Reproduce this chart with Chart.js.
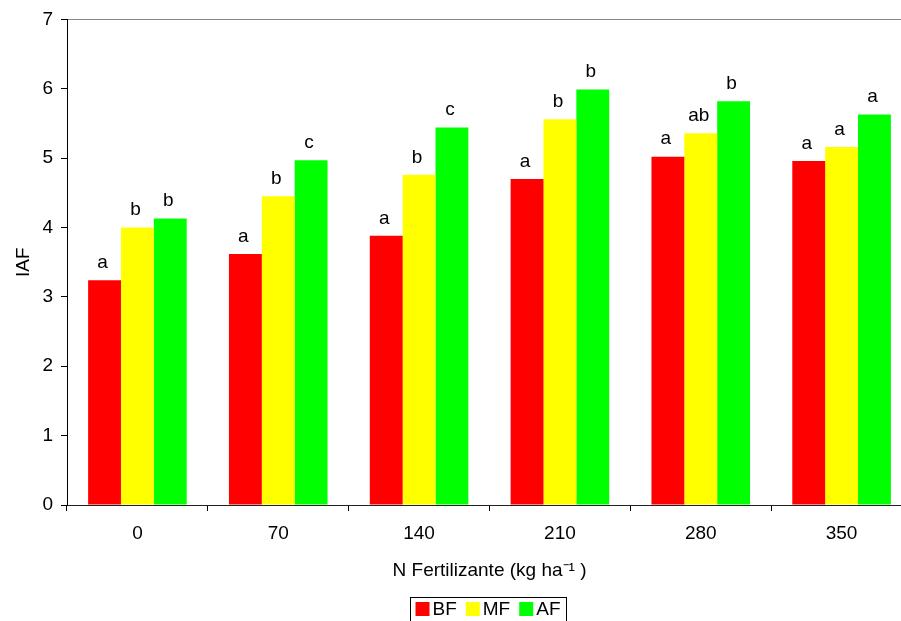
<!DOCTYPE html>
<html>
<head>
<meta charset="utf-8">
<script src="https://cdn.jsdelivr.net/npm/chart.js@4/dist/chart.umd.min.js"></script>
<style>
  html, body { margin: 0; padding: 0; background: #fff; overflow: hidden; }
  #wrap { width: 901px; height: 621px; overflow: hidden; position: relative; }
  #box { width: 978px; height: 640px; position: absolute; left: 0; top: 0; }
</style>
</head>
<body>
<div id="wrap"><div id="box"><canvas id="myChart" width="978" height="640"></canvas></div></div>
<script>
// doses de N (categorias)
var categorias = ['0', '70', '140', '210', '280', '350']

// IAF por nivel de fertilidade
var valoresBF = [3.24, 3.62, 3.88, 4.70, 5.02, 4.96]
var valoresMF = [4.00, 4.45, 4.76, 5.56, 5.36, 5.16]
var valoresAF = [4.13, 4.97, 5.44, 5.99, 5.82, 5.63]

// letras de comparacao de medias
var letrasBF = ['a', 'a', 'a', 'a', 'a', 'a']
var letrasMF = ['b', 'b', 'b', 'b', 'ab', 'a']
var letrasAF = ['b', 'c', 'c', 'b', 'b', 'a']

var ticksY = [0, 1, 2, 3, 4, 5, 6, 7]

const fonte = 'Liberation Sans, Arial, sans-serif'
const tam = 19

const data = {
    labels: categorias,
    datasets: [
        { label: 'BF', data: valoresBF, backgroundColor: '#ff0000', letras: letrasBF },
        { label: 'MF', data: valoresMF, backgroundColor: '#ffff00', letras: letrasMF },
        { label: 'AF', data: valoresAF, backgroundColor: '#00ff00', letras: letrasAF }
    ]
}

// letras acima das barras
const letrasPlugin = {
    id: 'letras',
    afterDatasetsDraw(chart) {
        const ctx = chart.ctx
        ctx.save()
        ctx.font = tam + 'px ' + fonte
        ctx.fillStyle = '#000'
        ctx.textAlign = 'center'
        ctx.textBaseline = 'bottom'
        chart.data.datasets.forEach((ds, i) => {
            chart.getDatasetMeta(i).data.forEach((bar, j) => {
                ctx.fillText(ds.letras[j], bar.x - 2, bar.y - 8)
            })
        })
        ctx.restore()
    }
}

// legenda com moldura, embaixo
const legendaPlugin = {
    id: 'legenda',
    afterDraw(chart) {
        const ctx = chart.ctx
        const area = chart.chartArea
        ctx.save()
        ctx.font = tam + 'px ' + fonte
        const q = 14, gapTxt = 3, gapItem = 9, padL = 5, padR = 6
        const dss = chart.data.datasets
        let largura = padL + padR
        dss.forEach((ds, i) => {
            largura += q + gapTxt + ctx.measureText(ds.label).width
            if (i < dss.length - 1) largura += gapItem
        })
        const x0 = Math.round((area.left + area.right) / 2 - largura / 2) - 1.5
        const y0 = 597.5
        ctx.strokeStyle = '#000'
        ctx.lineWidth = 1
        ctx.strokeRect(x0, y0, largura, 30)
        let x = x0 + padL
        const yc = 609
        ctx.textBaseline = 'middle'
        ctx.textAlign = 'left'
        dss.forEach(ds => {
            ctx.fillStyle = ds.backgroundColor
            ctx.fillRect(x, yc - q / 2, q, q)
            x += q + gapTxt
            ctx.fillStyle = '#000'
            ctx.fillText(ds.label, x, yc + 1)
            x += ctx.measureText(ds.label).width + gapItem
        })
        ctx.restore()
    }
}

const opcoes = {
    responsive: false,
    animation: false,
    devicePixelRatio: 1,
    layout: {
        padding: { left: 0, right: 66, top: 18, bottom: 47 }
    },
    plugins: {
        legend: { display: false },
        tooltip: { enabled: false }
    },
    datasets: {
        bar: { categoryPercentage: 0.7, barPercentage: 1.0 }
    },
    scales: {
        x: {
            afterFit(s) { s.height = 88 },
            grid: {
                offset: true,
                drawOnChartArea: false,
                tickLength: 6,
                tickColor: '#000'
            },
            border: { display: true, color: '#222', width: 1 },
            ticks: {
                color: '#000',
                padding: 11,
                font: { family: fonte, size: tam }
            },
            title: {
                display: true,
                text: 'N Fertilizante (kg ha⁻¹ )',
                color: '#000',
                font: { family: fonte, size: tam },
                padding: { top: 4, bottom: 11 }
            }
        },
        y: {
            min: 0,
            max: 7,
            afterFit(s) { s.width = 67 },
            afterBuildTicks(s) { s.ticks = ticksY.map(v => ({ value: v })) },
            grid: {
                color: c => (c.tick && c.tick.value === 7) ? '#888' : 'rgba(0,0,0,0)',
                tickColor: '#000',
                tickLength: 6
            },
            border: { display: true, color: '#000', width: 1 },
            ticks: {
                color: '#000',
                padding: 8,
                font: { family: fonte, size: tam }
            },
            title: {
                display: true,
                text: 'IAF',
                color: '#000',
                font: { family: fonte, size: tam },
                padding: { top: 12, bottom: 0 }
            }
        }
    }
}

const config = {
    type: 'bar',
    data: data,
    options: opcoes,
    plugins: [letrasPlugin, legendaPlugin]
}

const grafico = new Chart(document.getElementById('myChart'), config)
</script>
</body>
</html>
